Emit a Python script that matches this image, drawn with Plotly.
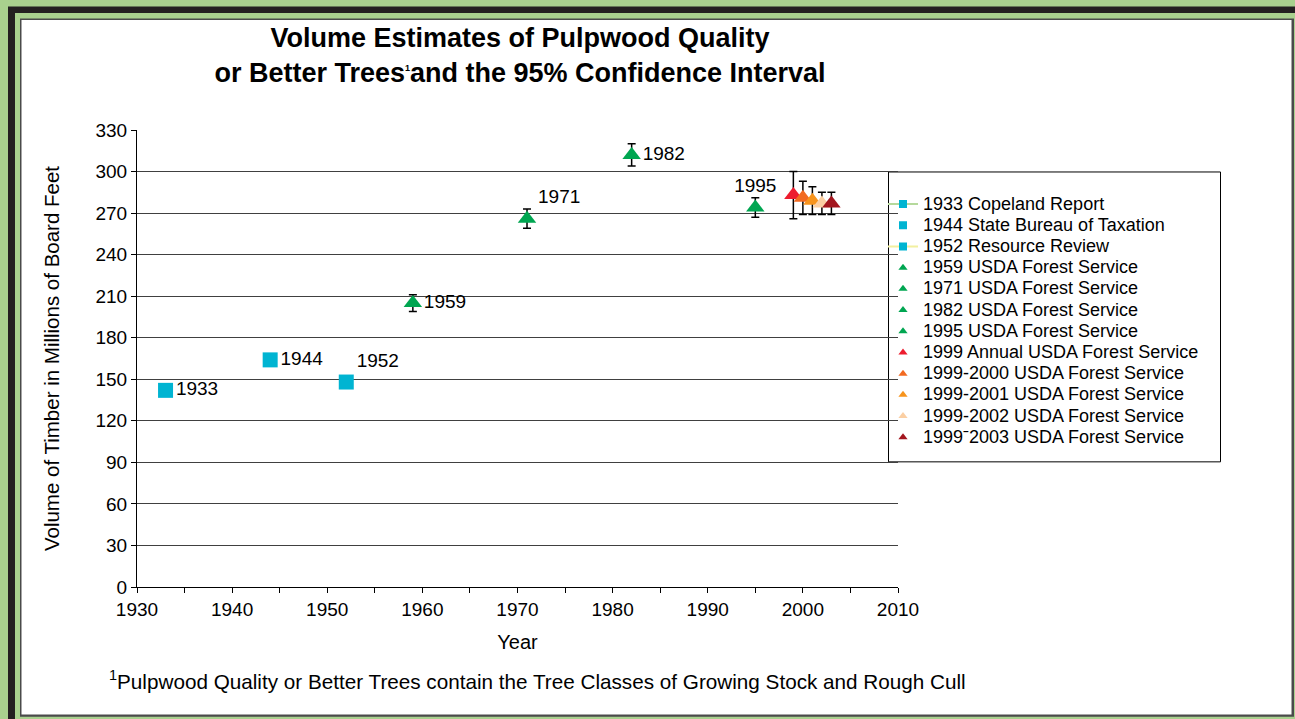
import plotly.graph_objects as go

# ---------------- data ----------------
series_names = [
    "1933 Copeland Report",
    "1944 State Bureau of Taxation",
    "1952 Resource Review",
    "1959 USDA Forest Service",
    "1971 USDA Forest Service",
    "1982 USDA Forest Service",
    "1995 USDA Forest Service",
    "1999 Annual USDA Forest Service",
    "1999-2000 USDA Forest Service",
    "1999-2001 USDA Forest Service",
    "1999-2002 USDA Forest Service",
    "1999\u02c92003 USDA Forest Service",
]
years = [1933, 1944, 1952, 1959, 1971, 1982, 1995, 1999, 2000, 2001, 2002, 2003]
volumes = [142, 164, 148, 205, 266, 312, 274, 283, 281, 279, 277, 277]
ci_half = [None, None, None, 6, 7, 8, 7, 17, 12, 10, 8, 8]
point_labels = ["1933", "1944", "1952", "1959", "1971", "1982", "1995", "", "", "", "", ""]
y_ticks = [0, 30, 60, 90, 120, 150, 180, 210, 240, 270, 300, 330]
x_ticks = [1930, 1940, 1950, 1960, 1970, 1980, 1990, 2000, 2010]

# ---------------- styles ----------------
colors = ["#00B4D2", "#00B4D2", "#00B4D2", "#00A651", "#00A651", "#00A651", "#00A651",
          "#ED1C2E", "#F26A21", "#F7941D", "#FBCFA3", "#A3161E"]
symbols = ["square"] * 3 + ["triangle-up"] * 9
legend_lines = {0: "#B5D99C", 2: "#F2F0A0"}
text_pos = ["middle right", "middle right", "top right", "middle right", "top right",
            "middle right", "top center", "middle right", "middle right", "middle right",
            "middle right", "middle right"]
FONT = "Liberation Sans, Arial, sans-serif"

W, H = 1295, 719
L, R, T, B = 137, 898, 129.5, 586.7


def px_x(p):
    return (p - L) / (R - L)


def px_y(p):
    return (B - p) / (B - T)


fig = go.Figure()

for i, name in enumerate(series_names):
    eb = None
    if ci_half[i] is not None:
        eb = dict(type="data", array=[ci_half[i]], visible=True, color="black",
                  thickness=1.5, width=4)
    has_label = bool(point_labels[i])
    fig.add_trace(go.Scatter(
        x=[years[i]], y=[volumes[i]],
        mode="markers+text" if has_label else "markers",
        text=[point_labels[i]] if has_label else None,
        textposition=text_pos[i],
        textfont=dict(family=FONT, size=19, color="black"),
        marker=dict(symbol=symbols[i], size=15 if i < 3 else 16, color=colors[i],
                    line=dict(width=0)),
        error_y=eb, showlegend=False, name=name, cliponaxis=False,
    ))

# legend entries
for i, name in enumerate(series_names):
    label = '<span style="font-size:18px">' + name + '</span>'
    if i in legend_lines:
        fig.add_trace(go.Scatter(
            x=[None], y=[None], mode="lines+markers", name=label,
            line=dict(color=legend_lines[i], width=2),
            marker=dict(symbol=symbols[i], size=8, color=colors[i]),
        ))
    else:
        fig.add_trace(go.Scatter(
            x=[None], y=[None], mode="markers", name=label,
            marker=dict(symbol=symbols[i], size=8, color=colors[i]),
        ))

shapes = [
    # black outer frame
    dict(type="rect", xref="paper", yref="paper", x0=px_x(8), x1=px_x(1400), y0=px_y(6), y1=px_y(800),
         fillcolor="#231F20", line=dict(width=0), layer="below"),
    dict(type="rect", xref="paper", yref="paper", x0=px_x(15), x1=px_x(1400), y0=px_y(12.5), y1=px_y(800),
         fillcolor="#A9D08E", line=dict(width=0), layer="below"),
    dict(type="rect", xref="paper", yref="paper", x0=px_x(20), x1=px_x(1294), y0=px_y(18), y1=px_y(716.5),
         fillcolor="#4A4A4A", line=dict(width=0), layer="below"),
    dict(type="rect", xref="paper", yref="paper", x0=px_x(21.5), x1=px_x(1291.5), y0=px_y(19.5), y1=px_y(714.3),
         fillcolor="white", line=dict(width=0), layer="below"),
    # legend box
    dict(type="rect", xref="paper", yref="paper", x0=px_x(888.5), x1=px_x(1220.5), y0=px_y(171.5), y1=px_y(461.5),
         fillcolor="white", line=dict(color="black", width=1), layer="below"),
]

fig.update_layout(
    width=W, height=H,
    margin=dict(l=L, r=W - R, t=T, b=H - B),
    paper_bgcolor="#A9D08E",
    plot_bgcolor="rgba(0,0,0,0)",
    font=dict(family=FONT, size=19, color="black"),
    title=dict(
        text='Volume Estimates of Pulpwood Quality<br>or Better Trees<sup><span style="font-size:9px">1</span></sup>and the 95% Confidence Interval',
        x=520 / W, xanchor="center", xref="container",
        y=1 - 47 / H, yanchor="top", yref="container",
        font=dict(family=FONT, size=27, color="black", weight="bold"),
    ),
    xaxis=dict(
        range=[1930, 2010], tickvals=x_ticks, showgrid=False, zeroline=False,
        showline=True, linecolor="black", linewidth=1,
        ticks="outside", ticklen=5, tickcolor="black",
        minor=dict(dtick=5, tick0=1930, ticks="outside", ticklen=5, tickcolor="black", showgrid=False),
        tickfont=dict(size=19), title=dict(text="Year", font=dict(size=20), standoff=16),
    ),
    yaxis=dict(
        range=[0, 330], tickvals=y_ticks, showgrid=True, gridcolor="#404040", gridwidth=1,
        zeroline=False, showline=True, linecolor="black", linewidth=1,
        ticks="outside", ticklen=5, tickcolor="black",
        tickfont=dict(size=19),
        title=dict(text="Volume of Timber in Millions of Board Feet", font=dict(size=20.5), standoff=30),
    ),
    legend=dict(
        x=px_x(883), y=px_y(188), xanchor="left", yanchor="top",
        bgcolor="rgba(0,0,0,0)", borderwidth=0,
        font=dict(family=FONT, size=14, color="black"),
        tracegroupgap=0, itemwidth=30,
    ),
    shapes=shapes,
    annotations=[
        dict(text="<sup>1</sup>Pulpwood Quality or Better Trees contain the Tree Classes of Growing Stock and Rough Cull",
             xref="paper", yref="paper", x=px_x(107), y=px_y(680), xanchor="left", yanchor="middle",
             showarrow=False, font=dict(family=FONT, size=20.7, color="black")),
    ],
)

fig.write_html("out.html", config={"displayModeBar": False},
               post_script="document.body.style.margin='0';")
